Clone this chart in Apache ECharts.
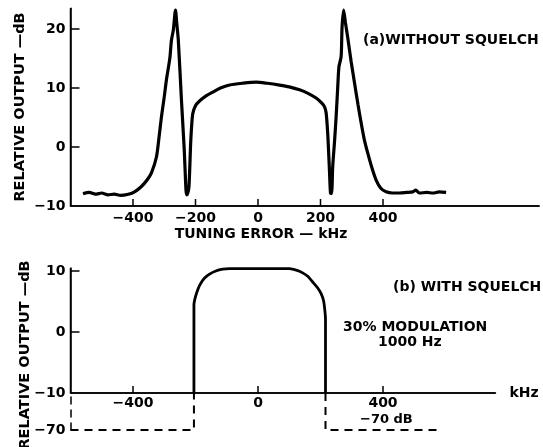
<!DOCTYPE html>
<html><head><meta charset="utf-8">
<script src="https://cdn.jsdelivr.net/npm/echarts@6/dist/echarts.min.js"></script>
<style>html,body{margin:0;padding:0;background:#fff}#c{width:543px;height:447px}</style>
</head><body><div id="c"></div>
<script>
// ---- data (tuning error kHz, relative output dB) ----
const topX = [-560,-540,-520,-500,-480,-460,-440,-415,-395,-373,-355,-341,-325,-317,-309,-300,-293,-282,-277,-271,-264,-260,-255,-245,-236,-231,-229,-226,-221,-215,-209,-200,-187,-165,-145,-120,-91,-50,-6,30,69,100,133,160,186,205,213,218,223,227,229,232,235,237,239,245,250,255,259,266,269,274,280,287,298,309,320,330,340,351,365,378,393,410,430,453,475,495,505,516,540,560,580,602];
const topY = [-7.9,-7.7,-8.0,-7.8,-8.1,-8.0,-8.2,-8.0,-7.6,-6.7,-5.6,-4.4,-1.7,1.5,5.1,8.5,11.4,15.1,18.1,19.8,23.2,21,18.1,8,-0.5,-6.8,-8.1,-8.0,-6.8,1.2,5.6,7.0,7.8,8.7,9.3,10.0,10.5,10.8,11.0,10.8,10.5,10.2,9.7,9.1,8.3,7.4,6.8,5.8,2.4,-2,-4.4,-7.8,-7.9,-6.8,-3.4,1,5.1,10,13.6,15.3,20.3,23.2,21,18.6,14.5,10.8,7.2,4.1,1.3,-1.0,-3.6,-5.6,-7.0,-7.6,-7.8,-7.8,-7.7,-7.6,-7.3,-7.8,-7.7,-7.8,-7.6,-7.7];
const botX = [-205,-205,-200,-190,-182,-170,-155,-135,-113,-91,0,101,125,143,160,175,190,202,210,214,216,216];
const botY = [-10,4.4,5.8,7.3,8.1,8.9,9.5,10.0,10.3,10.4,10.4,10.4,10.1,9.7,9.1,8.2,7.3,6.3,5.1,3.5,2,-10];
const squelchLeftX = [-600,-205,-205];
const squelchLeftY = [-70,-70,-10];
const squelchRightX = [216,216,590];
const squelchRightY = [-10,-70,-70];
const topXTicks = [-400,-200,0,200,400];
const topYTicks = [-10,0,10,20];
const botXTicks = [-400,0,400];
const botYTicks = [-10,0,10];
const squelchLevel = [-70];

const zip = (a,b) => a.map((v,i)=>[v,b[i]]);
const FONT = '"DejaVu Sans",sans-serif';
const minus = v => String(v).replace('-', '\u2212');
const lab = (size) => ({color:'#000', fontFamily:FONT, fontWeight:'bold', fontSize:size});
const axLine = {show:true, onZero:false, lineStyle:{color:'#000', width:1.5}};

const X0 = -600, XMAXtop = 900, XMAXbot = 760;
const YT0 = -10, YTmax = 23.5, YB0 = -10, YBmax = 10.5;
const G = [
  {left:70.5, width:468.75, top:8.35, height:197.65},
  {left:70.5, width:425, top:268, height:125},
  {left:70.5, width:425, top:393, height:37}
];
// tick length in axis units from a pixel length
const unitsX = (px, g, span) => px * span / g.width;
const unitsY = (px, g, span) => px * span / g.height;

// axis baselines traced with inward tick excursions (one polyline per axis)
const xAxisPath = (vals, x0, x1, base, len) => {
  const pts = [[x0, base]];
  vals.filter(v => v > x0).forEach(v => { pts.push([v, base], [v, base + len], [v, base]); });
  pts.push([x1, base]);
  return pts;
};
const yAxisPath = (vals, y0, y1, base, len) => {
  const pts = [[base, y0]];
  vals.filter(v => v > y0).forEach(v => { pts.push([base, v], [base + len, v], [base, v]); });
  pts.push([base, y1]);
  return pts;
};
const axisSeries = (data, idx) => ({type:'line', xAxisIndex:idx, yAxisIndex:idx, data, symbol:'none',
  clip:false, silent:true, z:6, lineStyle:{color:'#000', width:1.5}});

const txt = (x, y, s, size, align, rot) => ({type:'text', x, y, rotation:rot||0, z:100,
  style:{text:s, align:align||'left', verticalAlign:'middle', fill:'#000', font:'bold '+size+'px '+FONT}});
const texts = [
  txt(20, 107, 'RELATIVE OUTPUT \u2014dB', 14.5, 'center', Math.PI/2),
  txt(25, 355, 'RELATIVE OUTPUT \u2014dB', 14.5, 'center', Math.PI/2),
  txt(261, 234, 'TUNING ERROR \u2014 kHz', 14, 'center'),
  txt(363, 40, '(a)WITHOUT SQUELCH', 14),
  txt(393, 287, '(b) WITH SQUELCH', 14),
  txt(343, 327, '30% MODULATION', 14),
  txt(378, 342, '1000 Hz', 14),
  txt(360, 420, '\u221270 dB', 13)
];

const chart = echarts.init(document.getElementById('c'), null, {renderer:'canvas'});
chart.setOption({
  animation:false,
  backgroundColor:'#fff',
  grid:G,
  xAxis:[
    {gridIndex:0, type:'value', min:X0, max:XMAXtop, splitLine:{show:false}, axisLine:axLine, axisTick:{show:false},
     axisLabel:{customValues:topXTicks, margin:5, formatter:minus, ...lab(14)}},
    {gridIndex:1, type:'value', min:X0, max:XMAXbot, splitLine:{show:false}, axisLine:axLine, axisTick:{show:false},
     axisLabel:{customValues:botXTicks, margin:3, formatter:minus, ...lab(14)},
     name:'kHz', nameLocation:'end', nameGap:14, nameTextStyle:lab(14)},
    {gridIndex:2, type:'value', min:X0, max:XMAXbot, show:false}
  ],
  yAxis:[
    {gridIndex:0, type:'value', min:YT0, max:YTmax, splitLine:{show:false}, axisLine:axLine, axisTick:{show:false},
     axisLabel:{customValues:topYTicks, margin:5, formatter:minus, ...lab(14)}},
    {gridIndex:1, type:'value', min:YB0, max:YBmax, splitLine:{show:false}, axisLine:axLine, axisTick:{show:false},
     axisLabel:{customValues:botYTicks, margin:5, formatter:minus, ...lab(14)}},
    {gridIndex:2, type:'value', min:-70, max:-10, splitLine:{show:false},
     axisLine:{show:true, onZero:false, lineStyle:{color:'#000', width:1.5, type:[7,6]}},
     axisTick:{show:false},
     axisLabel:{customValues:squelchLevel, margin:5, formatter:minus, ...lab(14)}}
  ],
  series:[
    axisSeries(xAxisPath(topXTicks, X0, XMAXtop, YT0, unitsY(7, G[0], YTmax - YT0)), 0),
    axisSeries(yAxisPath(topYTicks, YT0, YTmax, X0, unitsX(9, G[0], XMAXtop - X0)), 0),
    axisSeries(xAxisPath(botXTicks, X0, XMAXbot, YB0, unitsY(7, G[1], YBmax - YB0)), 1),
    axisSeries(yAxisPath(botYTicks, YB0, YBmax, X0, unitsX(9, G[1], XMAXbot - X0)), 1),
    {type:'line', xAxisIndex:0, yAxisIndex:0, data:zip(topX,topY), symbol:'none', smooth:0.25,
     lineStyle:{color:'#000', width:3.2}},
    {type:'line', xAxisIndex:1, yAxisIndex:1, data:zip(botX,botY), symbol:'none', smooth:0.2, clip:false,
     lineStyle:{color:'#000', width:2.8}},
    {type:'line', xAxisIndex:2, yAxisIndex:2, data:zip(squelchLeftX,squelchLeftY), symbol:'none', clip:false,
     lineStyle:{color:'#000', width:2, type:[8,6]}},
    {type:'line', xAxisIndex:2, yAxisIndex:2, data:zip(squelchRightX,squelchRightY), symbol:'none', clip:false,
     lineStyle:{color:'#000', width:2, type:[8,6]}}
  ],
  graphic:texts
});
</script></body></html>
